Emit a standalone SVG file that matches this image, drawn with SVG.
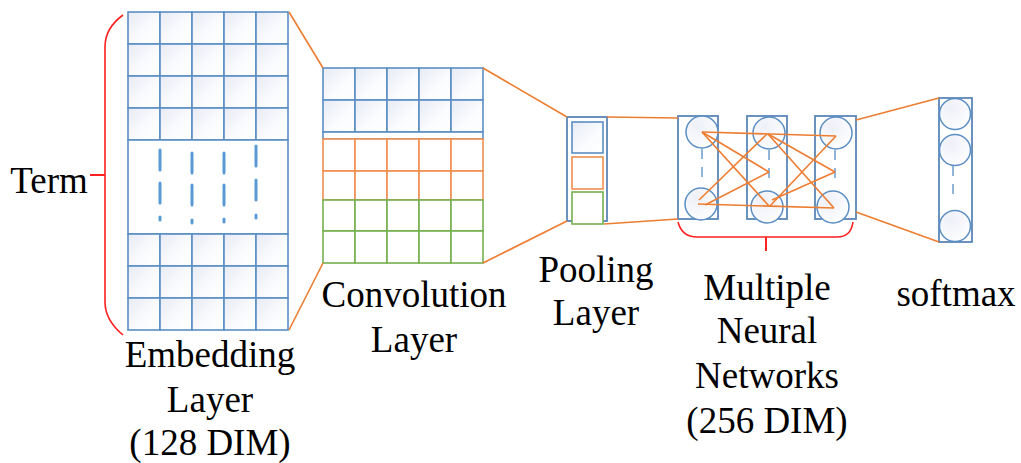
<svg xmlns="http://www.w3.org/2000/svg" width="1021" height="463" viewBox="0 0 1021 463">
<defs>
<linearGradient id="cellg" x1="0" y1="0" x2="1" y2="1">
<stop offset="0" stop-color="#e8ebf5"/>
<stop offset="0.6" stop-color="#fbfcfe"/>
<stop offset="1" stop-color="#ffffff"/>
</linearGradient>
<radialGradient id="circg" cx="0.35" cy="0.3" r="0.8">
<stop offset="0" stop-color="#eef0f8"/>
<stop offset="1" stop-color="#ffffff"/>
</radialGradient>
</defs>
<style>
.cell{fill:url(#cellg);stroke:#5b8ec4;stroke-width:1.6}
.ocell{fill:#fff;stroke:#ef8f4f;stroke-width:1.6}
.gcell{fill:#fff;stroke:#76b04f;stroke-width:1.6}
.box{fill:#fff;stroke:#5b87b8;stroke-width:1.8}
.node{fill:url(#circg);stroke:#5b8ec4;stroke-width:1.5}
.dash{stroke:#5b9bd5;stroke-width:3;fill:none;stroke-linecap:round}
.vd{stroke:#8fb5dc;stroke-width:2;stroke-dasharray:10 8;fill:none}
.conn{stroke:#ed7d31;stroke-width:1.6;fill:none}
.brace{stroke:#ff2020;stroke-width:1.6;fill:none}
text{font-family:'Liberation Serif','Times New Roman',serif;font-size:37px;fill:#000;text-anchor:middle}
</style>

<g id="embedding">
<g>
<rect class="cell" x="128" y="12" width="32" height="32"/><rect class="cell" x="160" y="12" width="32" height="32"/><rect class="cell" x="192" y="12" width="32" height="32"/><rect class="cell" x="224" y="12" width="32" height="32"/><rect class="cell" x="256" y="12" width="32" height="32"/>
<rect class="cell" x="128" y="44" width="32" height="32"/><rect class="cell" x="160" y="44" width="32" height="32"/><rect class="cell" x="192" y="44" width="32" height="32"/><rect class="cell" x="224" y="44" width="32" height="32"/><rect class="cell" x="256" y="44" width="32" height="32"/>
<rect class="cell" x="128" y="76" width="32" height="32"/><rect class="cell" x="160" y="76" width="32" height="32"/><rect class="cell" x="192" y="76" width="32" height="32"/><rect class="cell" x="224" y="76" width="32" height="32"/><rect class="cell" x="256" y="76" width="32" height="32"/>
<rect class="cell" x="128" y="108" width="32" height="32"/><rect class="cell" x="160" y="108" width="32" height="32"/><rect class="cell" x="192" y="108" width="32" height="32"/><rect class="cell" x="224" y="108" width="32" height="32"/><rect class="cell" x="256" y="108" width="32" height="32"/>
</g>
<rect class="box" x="128" y="140" width="160" height="94" style="stroke:#5b8ec4;stroke-width:1.6"/>
<path class="dash" d="M160 150v20M160 183v20M160 217v3M192 153v20M192 185v20M192 220v3M224 153v20M224 185v20M224 219v3M256 146v20M256 180v20M256 215v3"/>
<g>
<rect class="cell" x="128" y="234" width="32" height="32"/><rect class="cell" x="160" y="234" width="32" height="32"/><rect class="cell" x="192" y="234" width="32" height="32"/><rect class="cell" x="224" y="234" width="32" height="32"/><rect class="cell" x="256" y="234" width="32" height="32"/>
<rect class="cell" x="128" y="266" width="32" height="32"/><rect class="cell" x="160" y="266" width="32" height="32"/><rect class="cell" x="192" y="266" width="32" height="32"/><rect class="cell" x="224" y="266" width="32" height="32"/><rect class="cell" x="256" y="266" width="32" height="32"/>
<rect class="cell" x="128" y="298" width="32" height="32"/><rect class="cell" x="160" y="298" width="32" height="32"/><rect class="cell" x="192" y="298" width="32" height="32"/><rect class="cell" x="224" y="298" width="32" height="32"/><rect class="cell" x="256" y="298" width="32" height="32"/>
</g>
<text x="210" y="367">Embedding</text>
<text x="210" y="412">Layer</text>
<text x="210" y="455">(128 DIM)</text>
</g>

<g id="term">
<path class="brace" d="M123 15 Q105 28 105 47 V302 Q105 320 123 335"/>
<path class="brace" d="M90 175 H105" style="stroke-width:2"/>
<text x="49" y="193">Term</text>
</g>

<g id="convolution">
<rect class="cell" x="323" y="68" width="32" height="32"/><rect class="cell" x="355" y="68" width="32" height="32"/><rect class="cell" x="387" y="68" width="32" height="32"/><rect class="cell" x="419" y="68" width="32" height="32"/><rect class="cell" x="451" y="68" width="32" height="32"/>
<rect class="cell" x="323" y="100" width="32" height="32"/><rect class="cell" x="355" y="100" width="32" height="32"/><rect class="cell" x="387" y="100" width="32" height="32"/><rect class="cell" x="419" y="100" width="32" height="32"/><rect class="cell" x="451" y="100" width="32" height="32"/>
<rect x="323" y="132" width="160" height="7" style="fill:#fff;stroke:#5b8ec4;stroke-width:1.6"/>
<rect class="ocell" x="323" y="139" width="32" height="32"/><rect class="ocell" x="355" y="139" width="32" height="32"/><rect class="ocell" x="387" y="139" width="32" height="32"/><rect class="ocell" x="419" y="139" width="32" height="32"/><rect class="ocell" x="451" y="139" width="32" height="32"/>
<rect class="ocell" x="323" y="171" width="32" height="29"/><rect class="ocell" x="355" y="171" width="32" height="29"/><rect class="ocell" x="387" y="171" width="32" height="29"/><rect class="ocell" x="419" y="171" width="32" height="29"/><rect class="ocell" x="451" y="171" width="32" height="29"/>
<rect class="gcell" x="323" y="200" width="32" height="31"/><rect class="gcell" x="355" y="200" width="32" height="31"/><rect class="gcell" x="387" y="200" width="32" height="31"/><rect class="gcell" x="419" y="200" width="32" height="31"/><rect class="gcell" x="451" y="200" width="32" height="31"/>
<rect class="gcell" x="323" y="231" width="32" height="32"/><rect class="gcell" x="355" y="231" width="32" height="32"/><rect class="gcell" x="387" y="231" width="32" height="32"/><rect class="gcell" x="419" y="231" width="32" height="32"/><rect class="gcell" x="451" y="231" width="32" height="32"/>
<text x="414" y="307">Convolution</text>
<text x="414" y="352">Layer</text>
</g>

<g id="pooling">
<rect class="box" x="567" y="117" width="40" height="104"/>
<rect class="cell" x="572" y="122" width="31" height="31"/>
<rect class="ocell" x="572" y="157" width="31" height="32"/>
<rect class="gcell" x="572" y="192" width="31" height="32"/>
<text x="596" y="282">Pooling</text>
<text x="596" y="325">Layer</text>
</g>

<g id="mnn">
<rect class="box" x="678" y="116" width="40" height="103"/>
<rect class="box" x="747" y="116" width="40" height="103"/>
<rect class="box" x="815" y="116" width="41" height="103"/>
<circle class="node" cx="702" cy="132" r="16"/>
<circle class="node" cx="701" cy="204" r="16"/>
<circle class="node" cx="769" cy="133" r="16"/>
<circle class="node" cx="767" cy="207" r="16"/>
<circle class="node" cx="836" cy="133" r="16"/>
<circle class="node" cx="833" cy="207" r="16"/>
<path class="vd" d="M702 149V182M769 150V182M835 150V182"/>
<path class="brace" d="M678 222 Q682 237 697 237 H837 Q851 237 853 222"/>
<path class="brace" d="M766 237V251" style="stroke-width:2"/>
<text x="767" y="300">Multiple</text>
<text x="767" y="343">Neural</text>
<text x="767" y="388">Networks</text>
<text x="767" y="433">(256 DIM)</text>
</g>

<g id="softmax">
<rect class="box" x="939" y="98" width="33" height="144"/>
<circle class="node" cx="955" cy="114" r="15.5"/>
<circle class="node" cx="955" cy="150" r="15.5"/>
<circle class="node" cx="955" cy="226" r="15.5"/>
<path class="vd" d="M953 166V198"/>
<text x="956" y="306">softmax</text>
</g>

<g id="connectors">
<path class="conn" d="M289 12 L323 68"/>
<path class="conn" d="M289 330 L323 263"/>
<path class="conn" d="M483 68 L567 117"/>
<path class="conn" d="M483 263 L567 221"/>
<path class="conn" d="M607 117 L678 118"/>
<path class="conn" d="M604 224 L678 219"/>
<path class="conn" d="M856 120 L939 98"/>
<path class="conn" d="M856 212 L939 242"/>
<path class="conn" d="M702 132 L836 136"/>
<path class="conn" d="M702 132 L769 172"/>
<path class="conn" d="M702 132 L769 206"/>
<path class="conn" d="M699 200 L767 134"/>
<path class="conn" d="M705 205 L769 172"/>
<path class="conn" d="M698 204 L834 208"/>
<path class="conn" d="M768 134 L835 172"/>
<path class="conn" d="M768 134 L834 208"/>
<path class="conn" d="M770 206 L836 136"/>
<path class="conn" d="M772 200 L835 172"/>
</g>
</svg>
